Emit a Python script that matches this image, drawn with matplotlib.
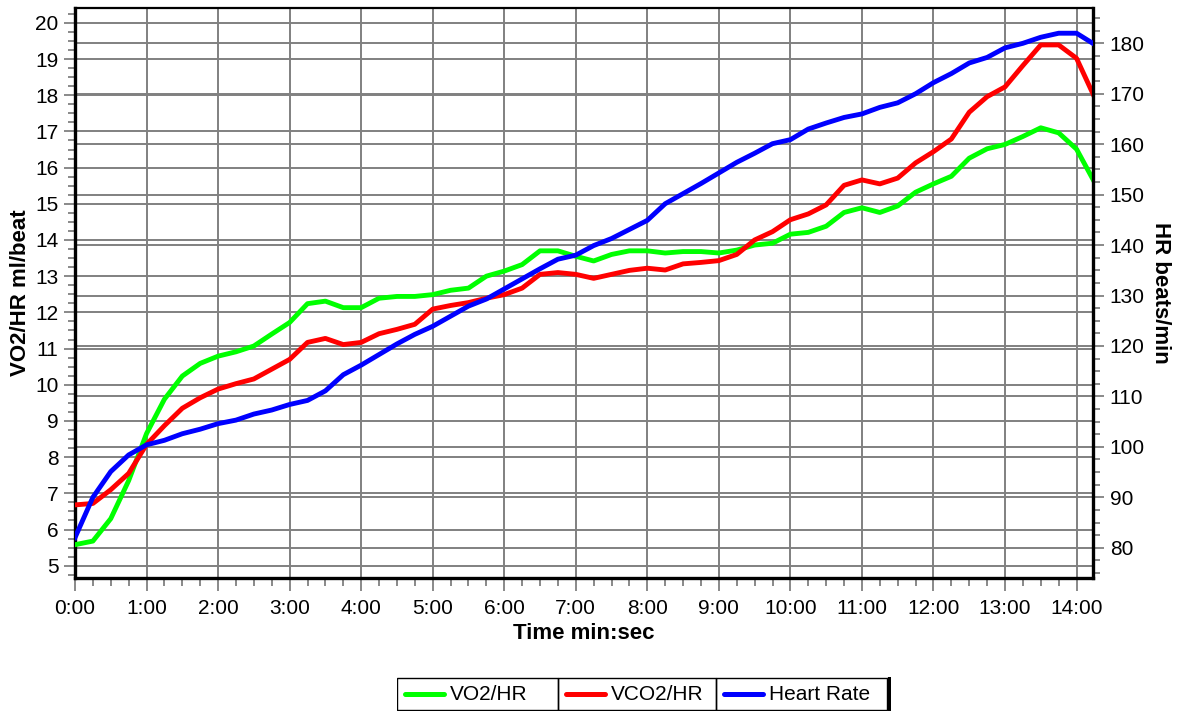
import numpy as np
import matplotlib
matplotlib.use("Agg")
import matplotlib.pyplot as plt
from matplotlib.lines import Line2D
from matplotlib.patches import Rectangle
from matplotlib.transforms import blended_transform_factory

plt.rcParams['font.family'] = ['Liberation Sans', 'DejaVu Sans']

# one sample every 15 s, four per row = one minute
vo2_hr = [5.58, 5.68, 6.30, 7.35,
          8.65, 9.60, 10.24, 10.59,
          10.79, 10.91, 11.07, 11.40,
          11.72, 12.24, 12.31, 12.13,
          12.13, 12.39, 12.44, 12.44,
          12.49, 12.61, 12.67, 13.00,
          13.14, 13.32, 13.70, 13.70,
          13.55, 13.42, 13.60, 13.70,
          13.70, 13.64, 13.68, 13.68,
          13.64, 13.72, 13.86, 13.91,
          14.16, 14.21, 14.38, 14.76,
          14.89, 14.76, 14.94, 15.32,
          15.55, 15.76, 16.26, 16.52,
          16.64, 16.86, 17.10, 16.96,
          16.51, 15.60]

vco2_hr = [6.68, 6.72, 7.10, 7.55,
           8.35, 8.87, 9.35, 9.64,
           9.88, 10.03, 10.16, 10.43,
           10.70, 11.17, 11.28, 11.11,
           11.17, 11.41, 11.53, 11.67,
           12.09, 12.19, 12.27, 12.39,
           12.49, 12.67, 13.05, 13.10,
           13.05, 12.94, 13.05, 13.16,
           13.22, 13.17, 13.34, 13.38,
           13.43, 13.60, 14.00, 14.23,
           14.56, 14.72, 14.97, 15.51,
           15.66, 15.55, 15.71, 16.13,
           16.44, 16.79, 17.53, 17.96,
           18.23, 18.82, 19.39, 19.39,
           19.02, 17.95]

heart_rate = [82.0, 90.0, 95.1, 98.4,
              100.4, 101.3, 102.6, 103.5,
              104.6, 105.3, 106.5, 107.3,
              108.4, 109.2, 111.1, 114.3,
              116.2, 118.3, 120.4, 122.3,
              123.9, 125.9, 127.9, 129.3,
              131.3, 133.3, 135.3, 137.2,
              138.0, 139.9, 141.3, 143.1,
              144.9, 148.2, 150.2, 152.2,
              154.3, 156.4, 158.2, 160.1,
              160.9, 163.0, 164.2, 165.3,
              166.0, 167.3, 168.2, 170.0,
              172.2, 174.0, 176.1, 177.2,
              179.1, 180.0, 181.2, 182.0,
              182.0, 179.8]

minutes = list(range(15))
minute_labels = [f"{m}:00" for m in minutes]
left_ticks = list(range(5, 21))
hr_ticks = list(range(80, 190, 10))

series_names = ["VO2/HR", "VCO2/HR", "Heart Rate"]
series_colors = ["#00ff00", "#ff0000", "#0000ff"]

t = np.arange(len(vo2_hr)) * 15 / 60.0  # minutes

grid_c = "#808080"
W, H = 1180, 713
fig = plt.figure(figsize=(W / 100, H / 100), dpi=100)
ax = fig.add_axes([75 / W, 1 - 578 / H, (1093 - 75) / W, 570 / H])
hr = ax.twinx()

ax.set_xlim(0, 14.23)
ax.set_ylim(4.66, 20.41)
hr.set_ylim(74, 187)

# grid: minutes, left axis units and heart-rate steps all behind the curves
ax.set_xticks(minutes)
ax.set_xticklabels(minute_labels)
ax.set_xticks(np.arange(0, 14.25, 0.25), minor=True)
ax.set_yticks(left_ticks)
ax.set_yticks(np.arange(4.75, 20.5, 0.25), minor=True)
hr.set_yticks(hr_ticks)
hr.set_yticks(np.arange(75, 187.5, 2.5), minor=True)
ax.grid(True, which='major', color=grid_c, linewidth=1.4)
hr_tr = blended_transform_factory(ax.transAxes, hr.transData)
for v in hr_ticks:
    ax.add_line(Line2D([0, 1], [v, v], transform=hr_tr, color=grid_c,
                       linewidth=1.4, zorder=1.5))

lw = 3.5
ax.plot(t, vo2_hr, color=series_colors[0], linewidth=lw, zorder=3)
ax.plot(t, vco2_hr, color=series_colors[1], linewidth=lw, zorder=3)
hr.plot(t, heart_rate, color=series_colors[2], linewidth=lw, zorder=3)

# ticks and frame
for a in (ax, hr):
    a.tick_params(which='major', direction='out', length=8, width=1.3,
                  color=grid_c, labelsize=15, pad=4)
    a.tick_params(which='minor', direction='out', length=5, width=1.3,
                  color=grid_c)
ax.tick_params(axis='x', which='major', length=9, pad=6)
ax.tick_params(axis='x', which='minor', length=6)
for s in ('left', 'bottom'):
    ax.spines[s].set_linewidth(2.4)
    ax.spines[s].set_color('black')
ax.spines['top'].set_linewidth(1.6)
ax.spines['right'].set_visible(False)
for s in ('left', 'top', 'bottom'):
    hr.spines[s].set_visible(False)
hr.spines['right'].set_linewidth(2.4)
hr.spines['right'].set_color('black')

ax.set_xlabel("Time min:sec", fontsize=16, fontweight='bold', labelpad=4)
ax.set_ylabel("VO2/HR ml/beat", fontsize=16, fontweight='bold', labelpad=3)
hr.set_ylabel("HR beats/min", fontsize=16, fontweight='bold', rotation=270,
              labelpad=19)

# legend strip: three framed cells side by side
lg = fig.add_axes([397 / W, 1 - 711 / H, 494 / W, 34 / H])
lg.set_xlim(0, 494)
lg.set_ylim(0, 34)
lg.axis('off')
cells = [(0, 161), (161, 319), (319, 490)]
for (x0, x1), name, col in zip(cells, series_names, series_colors):
    lg.add_patch(Rectangle((x0, 1), x1 - x0, 32, fill=False,
                           edgecolor='black', linewidth=1.0))
    lg.plot([x0 + 8, x0 + 47], [17, 17], color=col, linewidth=3.6,
            solid_capstyle='round')
    lg.text(x0 + 53, 17, name, fontsize=15, va='center', ha='left')
lg.plot([491.5, 491.5], [0, 33], color='black', linewidth=2.4)

fig.savefig("out.png", dpi=100)
